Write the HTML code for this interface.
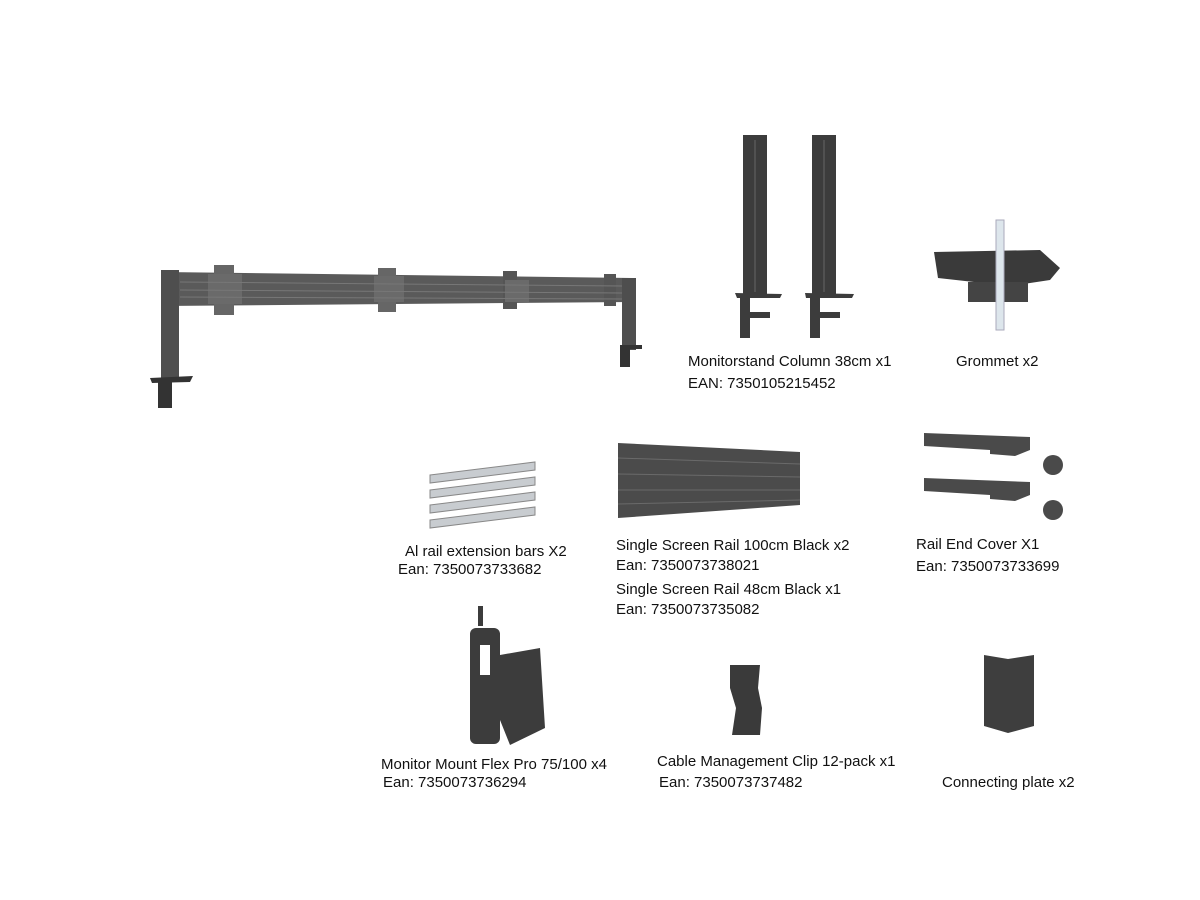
<!DOCTYPE html>
<html><head><meta charset="utf-8"><style>
html,body{margin:0;padding:0;background:#fff;width:1200px;height:900px;overflow:hidden}
.t{position:absolute;font-family:"Liberation Sans",sans-serif;font-size:15px;color:#111;white-space:nowrap;line-height:16px}
svg{position:absolute;left:0;top:0}
</style></head><body>
<svg width="1200" height="900" viewBox="0 0 1200 900">
<g fill="#5a5a5a">
<polygon points="162,272 632,278 632,302 162,306"/>
<rect x="161" y="270" width="18" height="108" fill="#4e4e4e"/>
<rect x="622" y="278" width="14" height="72" fill="#4e4e4e"/>
<polygon points="150,378 193,376 190,382 152,383" fill="#333"/>
<rect x="158" y="382" width="14" height="26" fill="#333"/>
<rect x="620" y="345" width="22" height="4" fill="#333"/>
<rect x="620" y="349" width="10" height="18" fill="#333"/>
<rect x="214" y="265" width="20" height="50" fill="#666"/>
<rect x="208" y="274" width="34" height="30" fill="#6a6a6a"/>
<rect x="378" y="268" width="18" height="44" fill="#666"/>
<rect x="374" y="276" width="30" height="26" fill="#6a6a6a"/>
<rect x="503" y="271" width="14" height="38" fill="#555"/>
<rect x="505" y="280" width="24" height="22" fill="#6a6a6a"/>
<rect x="604" y="274" width="12" height="32" fill="#555"/>
</g>
<g stroke="#777" stroke-width="1">
<line x1="180" y1="282" x2="622" y2="286"/><line x1="180" y1="290" x2="622" y2="293"/><line x1="180" y1="297" x2="622" y2="299"/>
</g>
<g fill="#3c3c3c">
<rect x="743" y="135" width="24" height="160"/><rect x="812" y="135" width="24" height="160"/>
<polygon points="735,293 782,294 780,298 737,298"/><polygon points="805,293 854,294 852,298 806,298"/>
<rect x="740" y="298" width="10" height="40"/><rect x="810" y="298" width="10" height="40"/>
<rect x="745" y="312" width="25" height="6"/><rect x="815" y="312" width="25" height="6"/>
</g>
<g stroke="#666"><line x1="755" y1="140" x2="755" y2="292"/><line x1="824" y1="140" x2="824" y2="292"/></g>
<polygon points="934,252 1040,250 1060,268 1050,280 1010,286 938,278" fill="#3a3a3a"/>
<rect x="968" y="282" width="60" height="20" fill="#444"/>
<rect x="996" y="220" width="8" height="110" fill="#dde6ec" stroke="#aab" stroke-width="1"/>
<g fill="#c8ccd0" stroke="#888" stroke-width="1">
<polygon points="430,475 535,462 535,470 430,483"/>
<polygon points="430,490 535,477 535,485 430,498"/>
<polygon points="430,505 535,492 535,500 430,513"/>
<polygon points="430,520 535,507 535,515 430,528"/>
</g>
<polygon points="618,443 800,452 800,505 618,518" fill="#4b4b4b"/>
<g stroke="#6a6a6a"><line x1="618" y1="458" x2="800" y2="464"/><line x1="618" y1="474" x2="800" y2="477"/><line x1="618" y1="490" x2="800" y2="490"/><line x1="618" y1="504" x2="800" y2="500"/></g>
<g fill="#4a4a4a">
<polygon points="924,433 1030,437 1030,450 1015,456 990,454 990,450 924,446"/>
<polygon points="924,478 1030,482 1030,495 1015,501 990,499 990,495 924,491"/>
<circle cx="1053" cy="465" r="10"/><circle cx="1053" cy="510" r="10"/>
</g>
<g fill="#3c3c3c">
<rect x="478" y="606" width="5" height="20"/>
<rect x="470" y="628" width="30" height="116" rx="6"/>
<polygon points="500,655 540,648 545,728 510,745 500,720"/>
</g>
<rect x="480" y="645" width="10" height="30" fill="#fff"/>
<polygon points="730,665 760,665 758,688 762,708 760,735 732,735 736,708 730,688" fill="#3a3a3a"/>
<polygon points="984,655 1008,659 1034,655 1034,726 1008,733 984,726" fill="#3e3e3e"/>
</svg>
<div class="t" style="left:688px;top:354px">Monitorstand Column 38cm x1</div>
<div class="t" style="left:688px;top:376px">EAN: 7350105215452</div>
<div class="t" style="left:956px;top:354px">Grommet x2</div>
<div class="t" style="left:405px;top:544px">Al rail extension bars X2</div>
<div class="t" style="left:398px;top:562px">Ean: 7350073733682</div>
<div class="t" style="left:616px;top:538px">Single Screen Rail 100cm Black x2</div>
<div class="t" style="left:616px;top:558px">Ean: 7350073738021</div>
<div class="t" style="left:616px;top:582px">Single Screen Rail 48cm Black x1</div>
<div class="t" style="left:616px;top:602px">Ean: 7350073735082</div>
<div class="t" style="left:916px;top:537px">Rail End Cover X1</div>
<div class="t" style="left:916px;top:559px">Ean: 7350073733699</div>
<div class="t" style="left:381px;top:757px">Monitor Mount Flex Pro 75/100 x4</div>
<div class="t" style="left:383px;top:775px">Ean: 7350073736294</div>
<div class="t" style="left:657px;top:754px">Cable Management Clip 12-pack x1</div>
<div class="t" style="left:659px;top:775px">Ean: 7350073737482</div>
<div class="t" style="left:942px;top:775px">Connecting plate x2</div>
</body></html>
